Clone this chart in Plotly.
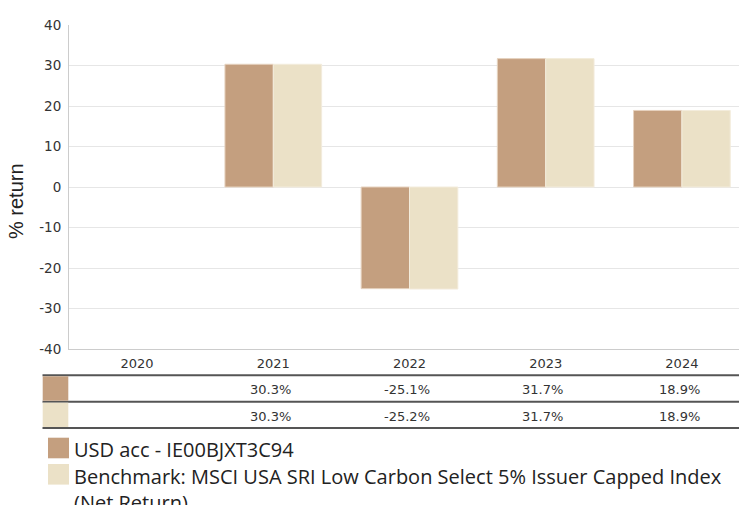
import plotly.graph_objects as go

years = ["2020", "2021", "2022", "2023", "2024"]
fund_name = "USD acc - IE00BJXT3C94"
bench_name = "Benchmark: MSCI USA SRI Low Carbon Select 5% Issuer Capped Index<br>(Net Return)"
fund_values = [None, 30.3, -25.1, 31.7, 18.9]
bench_values = [None, 30.3, -25.2, 31.7, 18.9]
y_ticks = [-40, -30, -20, -10, 0, 10, 20, 30, 40]
y_tick_labels = [str(v) for v in y_ticks]
y_title = "% return"

fund_color = "#c49f7f"
bench_color = "#ebe1c7"

# page body has an 8px margin; work in screenshot pixels and subtract it
OFF = 8
W, H = 747 - OFF, 505 - OFF
L, T = 69 - OFF, 25 - OFF
R = 0
B = H - (349 - OFF)
pw, ph = W - L - R, H - T - B


def px_x(px):
    return (px - OFF - L) / pw


def px_y(py):
    return (H - B - (py - OFF)) / ph


fig = go.Figure()
fig.add_trace(go.Bar(x=years, y=fund_values, name=fund_name,
                     marker=dict(color=fund_color, line=dict(color="#e6d2bf", width=1))))
fig.add_trace(go.Bar(x=years, y=bench_values, name=bench_name,
                     marker=dict(color=bench_color, line=dict(color="#f3ecdc", width=1))))

font_tick = "DejaVu Sans, Verdana, sans-serif"
font_title = "Liberation Sans, Arial, sans-serif"
font_legend = "Open Sans, sans-serif"

shapes = []
annotations = []
# table lines
for py in [375.3, 401.7, 428]:
    shapes.append(dict(type="line", xref="paper", yref="paper", x0=px_x(42.5), x1=px_x(747), y0=px_y(py), y1=px_y(py),
                       line=dict(color="#555555", width=2)))
# table swatches
for (y0, y1), col in [((376.3, 400.7), fund_color), ((402.7, 427), bench_color)]:
    shapes.append(dict(type="rect", xref="paper", yref="paper", x0=px_x(42.7), x1=px_x(68.3), y0=px_y(y1), y1=px_y(y0),
                       fillcolor=col, line=dict(width=0), layer="above"))
# table values
for vals, py in [(fund_values, 389), (bench_values, 416)]:
    for i, v in enumerate(vals):
        if v is None:
            continue
        annotations.append(dict(x=i - 0.02, xref="x", y=px_y(py), yref="paper", text=f"{v:.1f}%", showarrow=False,
                                font=dict(family=font_tick, size=13, color="#333333"),
                                xanchor="center", yanchor="middle"))

# custom legend
legend_items = [(fund_name, fund_color, 437.7, 448), (bench_name, bench_color, 464, 475)]
for name, col, sy, ly in legend_items:
    shapes.append(dict(type="rect", xref="paper", yref="paper", x0=px_x(48), x1=px_x(69), y0=px_y(sy + 20.6),
                       y1=px_y(sy), fillcolor=col, line=dict(width=0)))
    annotations.append(dict(x=px_x(75), xref="paper", y=px_y(ly - 13), yref="paper", text=name, showarrow=False,
                            font=dict(family=font_legend, size=20, color="#222222"), align="left",
                            xanchor="left", yanchor="top", xshift=-2, borderpad=0))

# y axis title
annotations.append(dict(x=px_x(16), xref="paper", y=px_y(201), yref="paper", text=y_title, textangle=-90,
                        showarrow=False, font=dict(family=font_title, size=20, color="#222222"),
                        xanchor="center", yanchor="middle"))

fig.update_layout(
    width=W, height=H,
    margin=dict(l=L, r=R, t=T, b=B, autoexpand=False),
    paper_bgcolor="white", plot_bgcolor="white",
    barmode="group", bargap=0.29, bargroupgap=0.0,
    showlegend=False,
    xaxis=dict(type="category", range=[-0.5, 4.478], showgrid=False, showline=True, linecolor="#cccccc",
               linewidth=1, ticks="", automargin=False, ticklabelstandoff=2,
               tickfont=dict(family=font_tick, size=13, color="#333333"), fixedrange=True),
    yaxis=dict(range=[-40, 40], tickvals=y_ticks, ticktext=y_tick_labels, showgrid=True, gridcolor="#e6e6e6",
               gridwidth=1, showline=True, linecolor="#cccccc", linewidth=1, zeroline=True,
               zerolinecolor="#e6e6e6", zerolinewidth=1, automargin=False, ticks="", ticklabelstandoff=4,
               tickfont=dict(family=font_tick, size=13.5, color="#333333")),
    shapes=shapes,
    annotations=annotations,
)

fig.write_html("out.html")
